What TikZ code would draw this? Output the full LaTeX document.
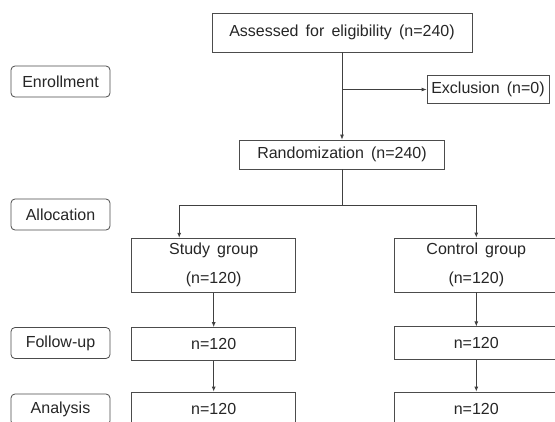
\documentclass[tikz,border=0pt]{standalone}
\usepackage{fontspec}
\setmainfont[WordSpace=1.6]{Liberation Sans}
\usetikzlibrary{arrows.meta}
\begin{document}
\begin{tikzpicture}[x=1pt,y=-1pt,>={Latex[length=5pt,width=4pt]}]
        \tikzstyle{phase}=[rectangle,rounded corners=4pt,draw=black!70,line width=0.8pt,minimum width=99pt,minimum height=31pt,inner sep=0pt,text=black!85,font=\fontsize{16}{19}\selectfont]
        \tikzstyle{block}=[rectangle,draw=black!70,line width=0.8pt,inner sep=0pt,text=black!85,align=center,font=\fontsize{16}{29}\selectfont]
        \tikzstyle{edge}=[draw,line width=0.8pt,black!75]
       \begin{scope}
         \clip (0,0) rectangle (555,421);
         \fill [white] (0,0) rectangle (555,421);
         % stages on the left
         \node [phase] (enroll) at (60.5,81.5) {Enrollment};
         \node [phase] (alloc) at (60.5,214.5) {Allocation};
         \node [phase] (follow) at (60.5,343) {Follow-up};
         \node [phase] (analysis) at (60.5,409.5) {Analysis};
         % flow
         \node [block,minimum width=260pt,minimum height=39pt] (assess) at (342,32.5) {Assessed for eligibility (n=240)};
         \node [block,minimum width=122pt,minimum height=28pt] (excl) at (488,89.5) {Exclusion (n=0)};
         \node [block,minimum width=205pt,minimum height=29pt] (rand) at (342,154.5) {Randomization (n=240)};
         \node [block,minimum width=164pt,minimum height=54pt] (study) at (213.7,265.2) {Study group\\(n=120)};
         \node [block,minimum width=164pt,minimum height=54pt] (ctrl) at (476.3,265) {Control group\\(n=120)};
         \node [block,minimum width=164pt,minimum height=33pt] (studyfu) at (213.7,344) {n=120};
         \node [block,minimum width=164pt,minimum height=33pt] (ctrlfu) at (476.3,343.3) {n=120};
         \node [block,minimum width=164pt,minimum height=33pt] (studyan) at (213.7,408.5) {n=120};
         \node [block,minimum width=164pt,minimum height=33pt] (ctrlan) at (476.3,408.5) {n=120};
         \coordinate (exclout) at (assess.south |- excl.west);
         \coordinate (split) at (342,205);
         \coordinate (studyin) at ([xshift=-34.5pt]study.north);
         \path[edge,->] (assess.south) -- (assess.south |- rand.north);
         \path[edge,->] (exclout) -- (excl.west);
         \path[edge] (rand.south) -- (split);
         \path[edge,->] (split) -| (studyin);
         \path[edge,->] (split) -| (ctrl.north);
         \path[edge,->] (study) -- (studyfu);
         \path[edge,->] (studyfu) -- (studyan);
         \path[edge,->] (ctrl) -- (ctrlfu);
         \path[edge,->] (ctrlfu) -- (ctrlan);
        \end{scope}
      \end{tikzpicture}
\end{document}
